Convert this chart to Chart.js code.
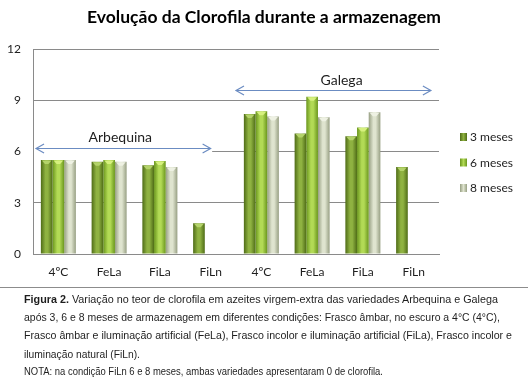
<!DOCTYPE html>
<html>
<head>
<meta charset="utf-8">
<script src="https://cdn.jsdelivr.net/npm/chart.js@4.4.1/dist/chart.umd.min.js"></script>
<style>
html,body{margin:0;padding:0;background:#fff;}
#wrap{position:relative;width:528px;height:379px;overflow:hidden;background:#fff;}
#chartBox{position:absolute;left:0;top:0;width:528px;height:288px;}
#sep{position:absolute;left:0;top:287px;width:528px;height:0;border-top:1px solid #8c8c8c;}
#caption{position:absolute;left:24px;top:290px;font-family:"Liberation Sans",Arial,sans-serif;font-size:11px;color:#1e1e1e;line-height:18.2px;}
.ln{display:block;white-space:nowrap;transform-origin:0 50%;width:max-content;}
.nota{font-size:10px;}
</style>
</head>
<body>
<div id="wrap">
  <div id="chartBox"><canvas id="c"></canvas></div>
  <div id="sep"></div>
  <div id="caption">
    <span class="ln" data-w="474"><b>Figura 2.</b> Variação no teor de clorofila em azeites virgem-extra das variedades Arbequina e Galega</span>
    <span class="ln" data-w="476">após 3, 6 e 8 meses de armazenagem em diferentes condições: Frasco âmbar, no escuro a 4°C (4°C),</span>
    <span class="ln" data-w="488">Frasco âmbar e iluminação artificial (FeLa), Frasco incolor e iluminação artificial (FiLa), Frasco incolor e</span>
    <span class="ln" data-w="116">iluminação natural (FiLn).</span>
    <span class="ln nota" data-w="359">NOTA: na condição FiLn 6 e 8 meses, ambas variedades apresentaram 0 de clorofila.</span>
  </div>
</div>
<script>
// ---- data ----
const categories = ['4ºC', 'FeLa', 'FiLa', 'FiLn', '4ºC', 'FeLa', 'FiLa', 'FiLn'];
const seriesLabels = ['3 meses', '6 meses', '8 meses'];
const meses3 = [5.5, 5.4, 5.2, 1.8, 8.2, 7.05, 6.9, 5.1];
const meses6 = [5.5, 5.5, 5.45, 0, 8.35, 9.2, 7.4, 0];
const meses8 = [5.5, 5.4, 5.1, 0, 8.05, 8.0, 8.3, 0];
const yTicks = [0, 3, 6, 9, 12];
const groupLabels = ['Arbequina', 'Galega'];
// group arrows: [fromIndex, toIndex, yValue], label: [xIndex, yValue]
const groupArrows = [[-0.44, 3.0, 6.22], [3.5, 7.34, 9.62]];
const groupLabelPos = [[1.22, 6.8], [5.58, 10.16]];

const titleText = 'Evolução da Clorofila durante a armazenagem';

// ---- styles ----
const palette = [
  {edge: '#4f6c17', light: '#8fb241', mid: '#6f8f2a', cap: '#b4d36a'},
  {edge: '#6a961d', light: '#b2da55', mid: '#8fbc35', cap: '#d6f07e'},
  {edge: '#979f83', light: '#dfe4cf', mid: '#bcc3a6', cap: '#eef1e3'}
];
const CAT_PCT = 0.69;
const FONT = 'Lato, "Open Sans", sans-serif';

function barGeom(chart, di, i) {
  const x = chart.scales.x;
  const cat = x.width / categories.length;
  const group = cat * CAT_PCT;
  const bw = group / 3;
  const left = x.getPixelForValue(i) - group / 2 + di * bw;
  return {left, bw};
}

function barFill(ctx) {
  const chart = ctx.chart;
  const p = palette[ctx.datasetIndex];
  if (!chart.chartArea || !chart.scales.x) return p.mid;
  const g = barGeom(chart, ctx.datasetIndex, ctx.dataIndex);
  const gr = chart.ctx.createLinearGradient(g.left, 0, g.left + g.bw, 0);
  gr.addColorStop(0, p.edge);
  gr.addColorStop(0.4, p.light);
  gr.addColorStop(0.6, p.light);
  gr.addColorStop(1, p.edge);
  return gr;
}

const decor = {
  id: 'decor',
  beforeDatasetsDraw(chart) {
    const {ctx, scales: {x, y}, chartArea} = chart;
    ctx.save();
    // white text box behind "Arbequina" (covers gridline as in original)
    ctx.fillStyle = '#ffffff';
    const bx0 = chartArea.left + 1;
    const bx1 = x.getPixelForValue(3.03);
    const by0 = y.getPixelForValue(7.4);
    const by1 = y.getPixelForValue(5.75);
    ctx.fillRect(bx0, by0, bx1 - bx0, by1 - by0);
    // arrows
    ctx.strokeStyle = '#6b8cc2';
    ctx.lineWidth = 1.2;
    groupArrows.forEach(a => {
      const x0 = x.getPixelForValue(a[0]);
      const x1 = x.getPixelForValue(a[1]);
      const yy = Math.round(y.getPixelForValue(a[2])) + 0.5;
      ctx.beginPath();
      ctx.moveTo(x0, yy); ctx.lineTo(x1, yy);
      ctx.moveTo(x0 + 8, yy - 4.5); ctx.lineTo(x0, yy); ctx.lineTo(x0 + 8, yy + 4.5);
      ctx.moveTo(x1 - 8, yy - 4.5); ctx.lineTo(x1, yy); ctx.lineTo(x1 - 8, yy + 4.5);
      ctx.stroke();
    });
    ctx.fillStyle = '#1e1e1e';
    ctx.font = '14px ' + FONT;
    ctx.textAlign = 'center';
    ctx.textBaseline = 'middle';
    groupLabels.forEach((t, k) => {
      ctx.fillText(t, x.getPixelForValue(groupLabelPos[k][0]), y.getPixelForValue(groupLabelPos[k][1]));
    });
    ctx.restore();
  },
  afterDatasetsDraw(chart) {
    const {ctx} = chart;
    ctx.save();
    chart.data.datasets.forEach((ds, di) => {
      const meta = chart.getDatasetMeta(di);
      meta.data.forEach((el, i) => {
        if (!ds.data[i]) return;
        const w = el.width;
        ctx.fillStyle = palette[di].cap;
        ctx.beginPath();
        ctx.moveTo(el.x - w / 2 + 1, el.y + 0.5);
        ctx.lineTo(el.x + w / 2 - 1, el.y + 0.5);
        ctx.lineTo(el.x + w * 0.15, el.y + 4);
        ctx.lineTo(el.x - w * 0.15, el.y + 4);
        ctx.closePath();
        ctx.fill();
      });
    });
    ctx.restore();
  },
  afterDraw(chart) {
    const {ctx, chartArea} = chart;
    ctx.save();
    const lx = chartArea.right + 21;
    const ly0 = chartArea.top + 88;
    ctx.font = '12px ' + FONT;
    ctx.textBaseline = 'middle';
    ctx.textAlign = 'left';
    chart.data.datasets.forEach((ds, di) => {
      const yy = ly0 + di * 25.5;
      const gr = ctx.createLinearGradient(lx, 0, lx + 7, 0);
      gr.addColorStop(0, palette[di].edge);
      gr.addColorStop(0.5, palette[di].light);
      gr.addColorStop(1, palette[di].edge);
      ctx.fillStyle = gr;
      ctx.fillRect(lx, yy - 4, 7, 8);
      ctx.fillStyle = '#1e1e1e';
      ctx.fillText(ds.label, lx + 10, yy + 0.5);
    });
    ctx.restore();
  }
};

const seriesData = [meses3, meses6, meses8];
new Chart(document.getElementById('c'), {
  type: 'bar',
  data: {
    labels: categories,
    datasets: seriesLabels.map((lab, k) => ({
      label: lab,
      data: seriesData[k],
      backgroundColor: barFill,
      borderWidth: 0,
      categoryPercentage: CAT_PCT,
      barPercentage: 1.0
    }))
  },
  options: {
    responsive: true,
    maintainAspectRatio: false,
    animation: false,
    layout: {padding: {left: 0, right: 0, top: 0, bottom: 0}},
    plugins: {
      legend: {display: false},
      tooltip: {enabled: false},
      title: {
        display: true,
        text: titleText,
        color: '#000',
        font: {family: FONT, size: 17.5, weight: 'bold', lineHeight: 1.2},
        padding: {top: 7, bottom: 21}
      }
    },
    scales: {
      x: {
        grid: {display: false, drawTicks: false},
        border: {display: true, color: '#8a8a8a', width: 1},
        ticks: {color: '#1e1e1e', font: {family: FONT, size: 12}, padding: 11, maxRotation: 0},
        afterFit(s) { s.height = 34; }
      },
      y: {
        min: 0, max: 12,
        afterBuildTicks(s) { s.ticks = yTicks.map(v => ({value: v})); },
        grid: {color: '#8a8a8a', drawTicks: false, lineWidth: 1},
        border: {display: true, color: '#8a8a8a', width: 1},
        ticks: {color: '#1e1e1e', font: {family: FONT, size: 12}, padding: 12},
        afterFit(s) { s.width = 33; }
      },
      legendSpace: {
        type: 'linear',
        position: 'right',
        display: true,
        grid: {display: false, drawTicks: false},
        border: {display: false},
        ticks: {display: false},
        afterFit(s) { s.width = 89; }
      }
    }
  },
  plugins: [decor]
});

// fit caption lines to their original widths
document.querySelectorAll('#caption .ln').forEach(el => {
  const target = parseFloat(el.dataset.w);
  const nat = el.getBoundingClientRect().width;
  if (nat > 0) el.style.transform = 'scaleX(' + (target / nat).toFixed(4) + ')';
});
</script>
</body>
</html>
